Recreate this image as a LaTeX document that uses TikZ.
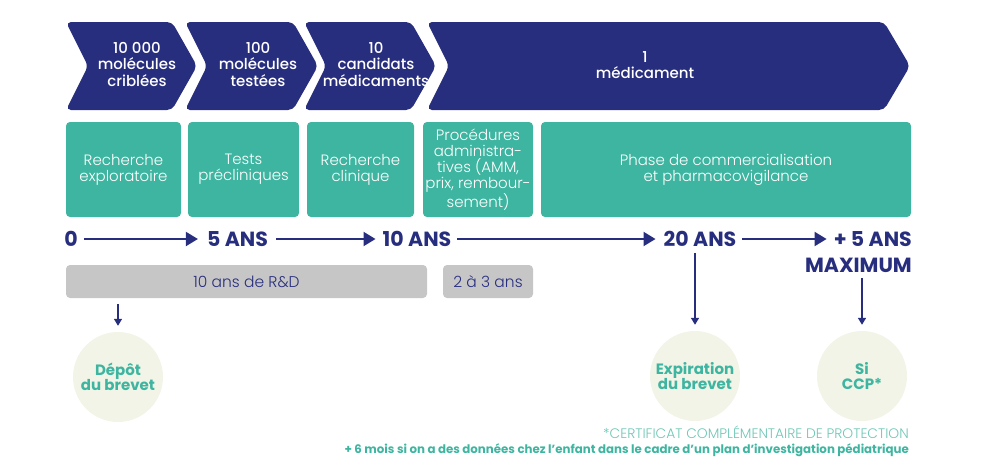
\documentclass[tikz,border=0pt]{standalone}
\usepackage{fontspec}
\setmainfont{Poppins}
\newfontfamily\pmed{Poppins Medium}
\newfontfamily\plight{Poppins Light}
\usetikzlibrary{arrows.meta,calc}
\definecolor{navy}{RGB}{40,46,126}
\definecolor{teal}{RGB}{62,181,160}
\definecolor{lteal}{RGB}{110,198,182}
\definecolor{gbg}{RGB}{198,198,198}
\definecolor{cbg}{RGB}{241,244,230}
\tikzset{
  chev/.style={fill=navy, rounded corners=5pt},
  chevtxt/.style={text=white, align=center, inner sep=0pt, font=\pmed\fontsize{15}{16.5}\selectfont},
  gbox/.style={fill=teal, rounded corners=4pt, text=white, align=center, inner sep=0pt,
    font=\plight\fontsize{15}{15.8}\selectfont},
  tl/.style={text=navy, inner sep=0pt, font=\bfseries\fontsize{20.5}{22}\selectfont},
  harr/.style={draw=navy, line width=2pt, -{Triangle[length=12pt,width=14pt]}},
  varr/.style={draw=navy, line width=1.5pt, -{Triangle[length=7pt,width=8pt]}},
  grbox/.style={fill=gbg, rounded corners=4pt, text=navy, inner sep=0pt,
    font=\plight\fontsize{15.5}{16}\selectfont},
  circ/.style={circle, fill=cbg, minimum size=90pt, inner sep=0pt, text=teal, align=center,
    font=\bfseries\fontsize{15}{15.5}\selectfont},
}
\begin{document}
\begin{tikzpicture}[x=1pt,y=-1pt]
\useasboundingbox (0,0) rectangle (1003,464);
% chevrons
\fill[chev] (66,22) -- (172,22) -- (197,66) -- (172,110) -- (66,110) -- (88,66) -- cycle;
\fill[chev] (185,22) -- (293,22) -- (318,66) -- (293,110) -- (185,110) -- (207,66) -- cycle;
\fill[chev] (304,22) -- (411,22) -- (436,66) -- (411,110) -- (304,110) -- (326,66) -- cycle;
\fill[chev] (427,22) -- (884,22) -- (910,66) -- (884,110) -- (427,110) -- (449,66) -- cycle;
\node[chevtxt] (c1) at (137,64) {10 000\\molécules\\criblées};
\node[chevtxt] (c2) at (258,64) {100\\molécules\\testées};
\node[chevtxt] (c3) at (376,64) {10\\candidats\\médicaments};
\node[chevtxt] (c4) at (645,65) {1\\médicament};
% green boxes
\node[gbox, minimum width=115pt, minimum height=95pt] (g1) at (123.5,169.5) {Recherche\\exploratoire};
\node[gbox, minimum width=111pt, minimum height=95pt] (g2) at (243.5,169.5) {Tests\\précliniques};
\node[gbox, minimum width=107pt, minimum height=95pt] (g3) at (360.5,169.5) {Recherche\\clinique};
\node[gbox, minimum width=110pt, minimum height=95pt] (g4) at (478,169.5) {Procédures\\administra-\\tives (AMM,\\prix, rembour-\\sement)};
\node[gbox, minimum width=370pt, minimum height=95pt] (g5) at (726,169.5) {Phase de commercialisation\\et pharmacovigilance};
% timeline
\node[tl] (t0) at (71,239) {0};
\node[tl] (t5) at (237.5,239) {5 ANS};
\node[tl] (t10) at (417,239) {10 ANS};
\node[tl] (t20) at (700,239) {20 ANS};
\node[tl, anchor=east] (t25) at (912,239) {+ 5 ANS};
\node[tl, anchor=east] (tmax) at (912,265) {MAXIMUM};
\draw[harr] ([xshift=6pt]t0.east) -- ([xshift=-9pt]t5.west);
\draw[harr] ([xshift=8pt]t5.east) -- ([xshift=-7pt]t10.west);
\draw[harr] ([xshift=6pt]t10.east) -- ([xshift=-8pt]t20.west);
\draw[harr] ([xshift=6pt]t20.east) -- ([xshift=-7pt]t25.west);
% gray boxes
\node[grbox, minimum width=361pt, minimum height=33pt] (rd) at (246.5,281.5) {10 ans de R\&D};
\node[grbox, minimum width=90pt, minimum height=33pt] (aa) at (488,281.5) {2 à 3 ans};
% circles
\node[circ] (dep) at (118,377) {Dépôt\\du brevet};
\node[circ] (exp) at (695,376) {Expiration\\du brevet};
\node[circ] (ccp) at (862,376) {Si\\CCP*};
\coordinate (ad) at (118,304);
\draw[varr] (ad) -- ([yshift=6pt]dep.north);
\draw[varr] ($(t20.south -| exp.north)+(0,6)$) -- ([yshift=6pt]exp.north);
\draw[varr] ($(tmax.south -| ccp.north)+(0,6)$) -- ([yshift=6pt]ccp.north);
% footnotes
\node[anchor=base east, inner sep=0pt, text=lteal, font=\plight\fontsize{13.8}{14}\selectfont] (f1) at (909,438) {*CERTIFICAT COMPLÉMENTAIRE DE PROTECTION};
\node[anchor=base east, inner sep=0pt, text=teal, font=\bfseries\fontsize{11.8}{13}\selectfont] (f2) at (909,453) {+ 6 mois si on a des données chez l’enfant dans le cadre d’un plan d’investigation pédiatrique};
\end{tikzpicture}
\end{document}
